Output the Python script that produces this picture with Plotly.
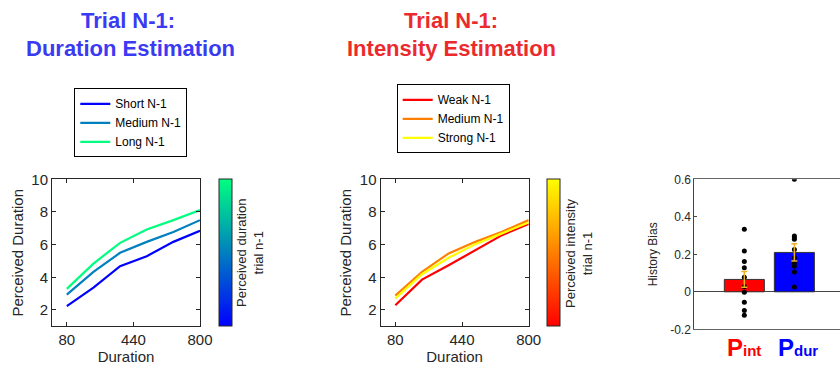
import plotly.graph_objects as go

# ---------------- data ----------------
durations = [80, 224, 368, 512, 656, 800]

dur_short = [2.23, 3.37, 4.68, 5.29, 6.17, 6.85]
dur_medium = [2.94, 4.33, 5.50, 6.17, 6.77, 7.50]
dur_long = [3.29, 4.84, 6.11, 6.93, 7.50, 8.12]

int_weak = [2.29, 3.86, 4.74, 5.66, 6.58, 7.26]
int_medium = [2.88, 4.33, 5.46, 6.17, 6.79, 7.50]
int_strong = [2.70, 4.19, 5.20, 6.03, 6.69, 7.36]

dur_names = ["Short N-1", "Medium N-1", "Long N-1"]
int_names = ["Weak N-1", "Medium N-1", "Strong N-1"]

bias_cats = [1, 2]
bias_means = [0.066, 0.210]
bias_err = [0.042, 0.046]
bias_int_points = [0.334, 0.217, 0.161, 0.128, 0.078, 0.027, -0.002, -0.056, -0.100, -0.125]
bias_dur_points = [0.600, 0.298, 0.289, 0.280, 0.226, 0.181, 0.154, 0.136, 0.105, 0.025]

x_ticks = [80, 440, 800]
y_ticks = [2, 4, 6, 8, 10]
bias_ticks = [-0.2, 0, 0.2, 0.4, 0.6]
bias_tick_text = ["-0.2", "0", "0.2", "0.4", "0.6"]

# ---------------- styles ----------------
W, H = 840, 370
FONT = "Liberation Sans, Arial, Helvetica, sans-serif"
TXT = "#262626"
winter = ["rgb(0,0,255)", "rgb(0,128,191)", "rgb(0,255,128)"]
autumn = ["rgb(255,0,0)", "rgb(255,128,0)", "rgb(255,255,0)"]


def px_x(p):
    return p / W


def px_y(p):
    return 1 - p / H


fig = go.Figure()

for vals, name, col in zip([dur_short, dur_medium, dur_long], dur_names, winter):
    fig.add_trace(go.Scatter(x=durations, y=vals, mode="lines", name=name,
                             line=dict(color=col, width=2.2), xaxis="x", yaxis="y",
                             legend="legend"))

for vals, name, col in zip([int_weak, int_medium, int_strong], int_names, autumn):
    fig.add_trace(go.Scatter(x=durations, y=vals, mode="lines", name=name,
                             line=dict(color=col, width=2.2), xaxis="x2", yaxis="y2",
                             legend="legend2"))

# colorbars
cb_common = dict(thickness=13, thicknessmode="pixels", len=147, lenmode="pixels",
                 xanchor="left", yanchor="middle", xpad=0, ypad=0,
                 showticklabels=False, ticks="", outlinecolor=TXT, outlinewidth=1,
                 y=px_y(252.5))
fig.add_trace(go.Scatter(x=[None, None], y=[None, None], mode="markers", showlegend=False,
                         xaxis="x", yaxis="y",
                         marker=dict(color=[0, 1], cmin=0, cmax=1, showscale=True,
                                     colorscale=[[0, winter[0]], [1, winter[2]]],
                                     colorbar=dict(x=px_x(219), **cb_common))))
fig.add_trace(go.Scatter(x=[None, None], y=[None, None], mode="markers", showlegend=False,
                         xaxis="x2", yaxis="y2",
                         marker=dict(color=[0, 1], cmin=0, cmax=1, showscale=True,
                                     colorscale=[[0, autumn[0]], [1, autumn[2]]],
                                     colorbar=dict(x=px_x(547), **cb_common))))

# bars
fig.add_trace(go.Bar(x=bias_cats, y=bias_means, width=0.8, showlegend=False,
                     marker=dict(color=["#ff0000", "#0000ff"], line=dict(color="#333333", width=1)),
                     xaxis="x3", yaxis="y3"))
fig.add_trace(go.Scatter(x=[1] * len(bias_int_points), y=bias_int_points, mode="markers",
                         marker=dict(color="black", size=5), showlegend=False,
                         xaxis="x3", yaxis="y3"))
fig.add_trace(go.Scatter(x=[2] * len(bias_dur_points), y=bias_dur_points, mode="markers",
                         marker=dict(color="black", size=5), showlegend=False,
                         xaxis="x3", yaxis="y3"))
fig.add_trace(go.Scatter(x=bias_cats, y=bias_means, mode="markers",
                         marker=dict(size=0.1, color="rgba(0,0,0,0)"), showlegend=False,
                         error_y=dict(type="data", array=bias_err, color="#EDB120",
                                      thickness=1.5, width=3),
                         xaxis="x3", yaxis="y3"))

y_dom = [px_y(326.3), px_y(179.3)]
axis_common = dict(showline=True, linecolor=TXT, linewidth=1, mirror="ticks",
                   ticks="inside", ticklen=4, tickcolor=TXT, showgrid=False,
                   zeroline=False, tickfont=dict(size=15, color=TXT, family=FONT),
                   automargin=False)

fig.update_layout(
    width=W, height=H, margin=dict(l=0, r=0, t=0, b=0, pad=0, autoexpand=False),
    paper_bgcolor="white", plot_bgcolor="white",
    font=dict(family=FONT, color=TXT),
    xaxis=dict(domain=[px_x(52), px_x(200)], range=[0, 800], tickvals=x_ticks,
               title=dict(text="Duration", font=dict(size=15, color=TXT), standoff=3),
               anchor="y", **axis_common),
    yaxis=dict(domain=y_dom, range=[1, 10], tickvals=y_ticks,
               title=dict(text="Perceived Duration", font=dict(size=15, color=TXT), standoff=4),
               anchor="x", **axis_common),
    xaxis2=dict(domain=[px_x(380.5), px_x(528.7)], range=[0, 800], tickvals=x_ticks,
                title=dict(text="Duration", font=dict(size=15, color=TXT), standoff=3),
                anchor="y2", **axis_common),
    yaxis2=dict(domain=y_dom, range=[1, 10], tickvals=y_ticks,
                title=dict(text="Perceived Duration", font=dict(size=15, color=TXT), standoff=4),
                anchor="x2", **axis_common),
    xaxis3=dict(domain=[px_x(694.3), 1.0], range=[0, 2.912], showticklabels=False,
                showline=True, mirror=True, linecolor="#666666", linewidth=1,
                ticks="", showgrid=False, zeroline=False, anchor="y3", automargin=False),
    yaxis3=dict(domain=[px_y(329.3), px_y(179.3)], range=[-0.2, 0.6],
                tickvals=bias_ticks, ticktext=bias_tick_text,
                showline=True, linecolor="#444444", linewidth=1, mirror=False,
                ticks="inside", ticklen=3, tickcolor="#444444", showgrid=False,
                zeroline=True, zerolinecolor="#444444", zerolinewidth=1,
                tickfont=dict(size=12, color=TXT, family=FONT),
                title=dict(text="History Bias", font=dict(size=12, color=TXT), standoff=10),
                anchor="x3", automargin=False),
    legend=dict(x=px_x(74.3), y=px_y(88.3), xanchor="left", yanchor="top",
                bordercolor="#000000", borderwidth=1, bgcolor="white",
                font=dict(size=12, color="#000000", family=FONT), tracegroupgap=0,
                itemwidth=30),
    legend2=dict(x=px_x(396.7), y=px_y(84.3), xanchor="left", yanchor="top",
                 bordercolor="#000000", borderwidth=1, bgcolor="white",
                 font=dict(size=12, color="#000000", family=FONT), tracegroupgap=0,
                 itemwidth=30),
)

anns = []
title_blue = "#3A3AF2"
title_red = "#EC2A2E"
for text, xc, yc, col in [("Trial N-1:", 128, 21, title_blue),
                          ("Duration Estimation", 130.5, 49, title_blue),
                          ("Trial N-1:", 451, 21, title_red),
                          ("Intensity Estimation", 451.5, 49, title_red)]:
    anns.append(dict(text="<b>%s</b>" % text, x=px_x(xc), y=px_y(yc), xref="paper", yref="paper",
                     xanchor="center", yanchor="middle", showarrow=False,
                     font=dict(size=22, color=col, family=FONT)))

for text, xc in [("Perceived duration<br>trial n-1", 250), ("Perceived intensity<br>trial n-1", 579)]:
    anns.append(dict(text=text, x=px_x(xc), y=px_y(253), xref="paper", yref="paper",
                     xanchor="center", yanchor="middle", showarrow=False, textangle=-90,
                     font=dict(size=13, color=TXT, family=FONT)))

for sub, xc, col in [("int", 743.5, "#ff0000"), ("dur", 797.5, "#0000ff")]:
    anns.append(dict(text="<b>P<span style='font-size:15px'>%s</span></b>" % sub,
                     x=px_x(xc), y=px_y(347), xref="paper", yref="paper",
                     xanchor="center", yanchor="middle", showarrow=False,
                     font=dict(size=24, color=col, family=FONT)))

fig.update_layout(annotations=anns)

fig.write_html("out.html", post_script="document.body.style.margin='0';",
               config={"displayModeBar": False})
